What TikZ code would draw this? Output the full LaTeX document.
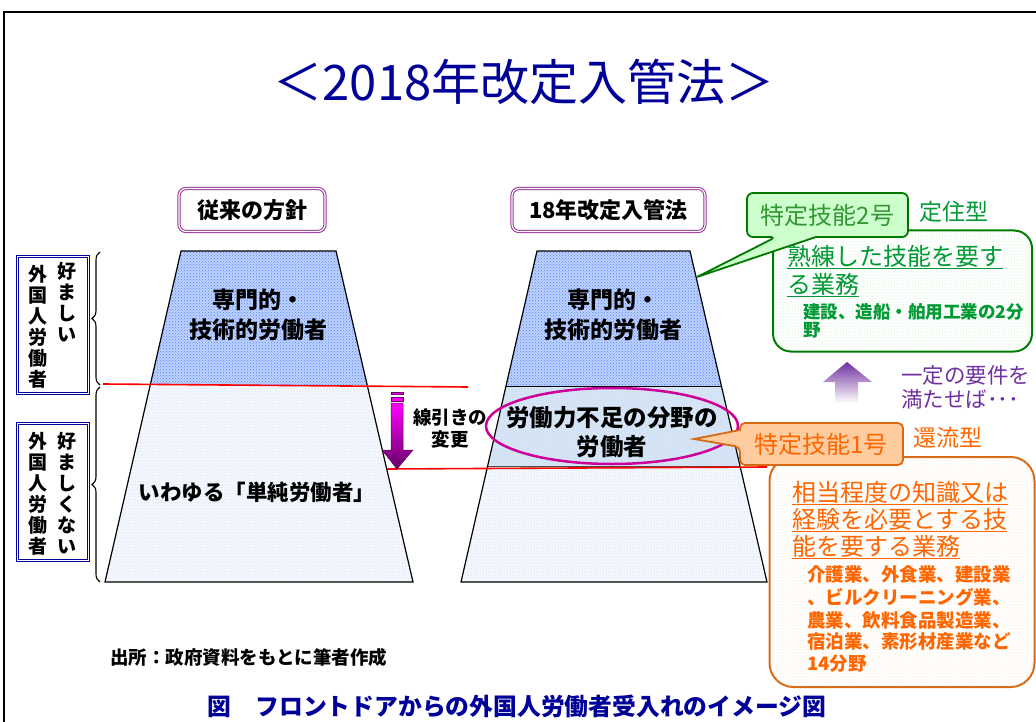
\documentclass[tikz,border=0pt]{standalone}
\usepackage{fontspec}
\setmainfont{Noto Sans CJK JP}
\usetikzlibrary{shapes.geometric,decorations.pathreplacing,patterns}
\definecolor{navy}{RGB}{0,0,153}
\definecolor{boxpurple}{RGB}{153,51,153}
\definecolor{gborder}{RGB}{0,120,0}
\definecolor{gfill}{RGB}{204,255,204}
\definecolor{gtext}{RGB}{0,153,51}
\definecolor{gtitle}{RGB}{51,150,51}
\definecolor{gdots}{RGB}{190,235,190}
\definecolor{oborder}{RGB}{215,105,20}
\definecolor{ofill}{RGB}{255,204,160}
\definecolor{otext}{RGB}{255,102,0}
\definecolor{odots}{RGB}{255,215,190}
\definecolor{mag}{RGB}{204,0,153}
\definecolor{ptext}{RGB}{112,48,160}
\definecolor{upblue}{RGB}{190,210,255}
\definecolor{updots}{RGB}{85,130,248}
\definecolor{lowfill}{RGB}{244,248,254}
\definecolor{lowdots}{RGB}{190,208,240}
\definecolor{midfill}{RGB}{214,229,246}
\definecolor{arrtop}{RGB}{255,0,255}
\definecolor{arrbot}{RGB}{100,0,100}
\newcommand{\fsz}[2]{\fontsize{#1}{#2}\selectfont}
\begin{document}
\begin{tikzpicture}[x=1pt,y=-1pt,
  lbl/.style={draw=navy, double=white, double distance=1.5pt, line width=1pt, fill=white, minimum width=71pt, minimum height=137pt, inner sep=0pt},
  vcol/.style={align=center, font=\bfseries\fsz{19}{21}, inner sep=0pt},
  headbox/.style={draw=boxpurple, double=white, double distance=1.2pt, line width=1pt, rounded corners=7pt, fill=white, minimum height=43pt, font=\bfseries\fsz{22}{26}, inner sep=0pt},
  bigtxt/.style={align=center, font=\bfseries\fsz{23}{30}, inner sep=0pt},
  redline/.style={draw=red, line width=1.6pt},
  brc/.style={decorate, decoration={brace, amplitude=8pt}, line width=1.1pt},
  trap/.style={draw=black, line width=1.2pt},
  gline/.style={anchor=west, inner sep=0pt, text=gtext},
  oline/.style={anchor=west, inner sep=0pt, text=otext},
]
\useasboundingbox (0,0) rectangle (1036,722);
% frame
\draw[line width=2pt] (4,740) -- (4,12) -- (1045,12);
% title
\node[text=navy, font=\fsz{49}{56}, inner sep=0pt] (title) at (524,82) {＜2018年改定入管法＞};

% left labels
\node[lbl] (b1) at (53,325) {};
\node[vcol] (b1r) at (67,302) {好\\ま\\し\\い};
\node[vcol] (b1l) at (38,327) {外\\国\\人\\労\\働\\者};
\node[lbl] (b2) at (53,492) {};
\node[vcol] (b2r) at (67,493) {好\\ま\\し\\く\\な\\い};
\node[vcol] (b2l) at (38,494) {外\\国\\人\\労\\働\\者};

% braces
\draw[brc] (100,385) -- (100,252);
\draw[brc] (100,582) -- (100,387);

% head boxes
\node[headbox, minimum width=146pt] (h1) at (252,210) {従来の方針};
\node[headbox, minimum width=193pt] (h2) at (608.5,210) {18年改定入管法};

% left trapezoid
\coordinate (LTL) at (181,251); \coordinate (LTR) at (336,251);
\coordinate (LML) at (150.2,385); \coordinate (LMR) at (367.2,385);
\coordinate (LBL) at (105,582); \coordinate (LBR) at (413,582);
\fill[upblue] (LTL) -- (LTR) -- (LMR) -- (LML) -- cycle;
\fill[pattern=crosshatch dots, pattern color=updots] (LTL) -- (LTR) -- (LMR) -- (LML) -- cycle;
\fill[lowfill] (LML) -- (LMR) -- (LBR) -- (LBL) -- cycle;
\fill[pattern=dots, pattern color=lowdots] (LML) -- (LMR) -- (LBR) -- (LBL) -- cycle;
\draw[trap] (LTL) -- (LTR) -- (LBR) -- (LBL) -- cycle;

% right trapezoid
\coordinate (RTL) at (537,251); \coordinate (RTR) at (690,251);
\coordinate (RML) at (506,386); \coordinate (RMR) at (721.4,386);
\coordinate (RNL) at (487.6,466); \coordinate (RNR) at (740,466);
\coordinate (RBL) at (461,582); \coordinate (RBR) at (767,582);
\fill[upblue] (RTL) -- (RTR) -- (RMR) -- (RML) -- cycle;
\fill[pattern=crosshatch dots, pattern color=updots] (RTL) -- (RTR) -- (RMR) -- (RML) -- cycle;
\fill[midfill] (RML) -- (RMR) -- (RNR) -- (RNL) -- cycle;
\fill[pattern=dots, pattern color=lowdots] (RML) -- (RMR) -- (RNR) -- (RNL) -- cycle;
\fill[lowfill] (RNL) -- (RNR) -- (RBR) -- (RBL) -- cycle;
\fill[pattern=dots, pattern color=lowdots] (RNL) -- (RNR) -- (RBR) -- (RBL) -- cycle;
\draw[line width=0.8pt] (RML) -- (RMR);
\draw[line width=0.8pt, black!70] (RNL) -- (RNR);
\draw[trap] (RTL) -- (RTR) -- (RBR) -- (RBL) -- cycle;

% red lines
\coordinate (r1a) at (103,384); \coordinate (r1b) at (468,387);
\coordinate (r2a) at (387,469); \coordinate (r2b) at (767,467);
\draw[redline] (r1a) -- (r1b);
\draw[redline] (r2a) -- (r2b);

% trapezoid texts
\node[bigtxt] (ls) at (258,315) {専門的・\\技術的労働者};
\node[bigtxt] (rs) at (613,315) {専門的・\\技術的労働者};
\node[bigtxt, font=\bfseries\fsz{21.5}{26}] (tanjun) at (257,492) {いわゆる「単純労働者」};

% down arrow
\fill[arrtop] (391,392) rectangle (403,394.5);
\fill[arrtop] (391,397) rectangle (403,401.5);
\draw[line width=0.4pt, arrbot] (391,392) rectangle (403,394.5) (391,397) rectangle (403,401.5);
\shade[top color=arrtop, bottom color=arrbot, draw=arrbot, line width=0.5pt]
  (391,403) -- (403,403) -- (403,450) -- (413,450) -- (397,469) -- (382,450) -- (391,450) -- cycle;
\node[align=center, font=\bfseries\fsz{18.5}{22}, inner sep=0pt] (senbiki) at (450,428) {線引きの\\変更};

% ellipse
\node[draw=mag, line width=2.5pt, ellipse, minimum width=252pt, minimum height=76pt, inner sep=0pt] (ell) at (612,426) {};
\node[bigtxt, font=\bfseries\fsz{23.5}{29}] (fusoku) at (612,432) {労働力不足の分野の\\労働者};

% green big box
\node[draw=gborder, line width=2pt, fill=white, rounded corners=18pt, minimum width=259pt, minimum height=121pt,
  postaction={pattern=dots, pattern color=gdots}] (gbig) at (902.5,291) {};
% green callout
\path[draw=gborder, fill=gfill, line width=1.8pt]
  (776,237) -- (697,277) -- (816,237) [rounded corners=6pt] -- (908,237) -- (908,193) -- (747,193) -- (747,237) -- cycle;
\node[text=gtitle, font=\fsz{24}{28}, inner sep=0pt] (t2) at (827.5,215) {特定技能2号};
\node[text=gtext, font=\fsz{23}{28}, inner sep=0pt] (teiju) at (954,212) {定住型};
\node[gline, font=\fsz{24}{28}] (g1) at (787,257) {\underline{熟練した技能を要す}};
\node[gline, font=\fsz{24}{28}] (g2) at (787,285) {\underline{る業務}};
\node[gline, font=\bfseries\fsz{17.5}{20}] (g3) at (803,312) {建設、造船・舶用工業の2分};
\node[gline, font=\bfseries\fsz{17.5}{20}] (g4) at (803,330) {野};

% purple up arrow
\shade[top color=ptext, bottom color=white]
  (847,362) -- (872,382) -- (858,382) -- (858,403) -- (835,403) -- (835,382) -- (823,382) -- cycle;
\node[anchor=west, text=ptext, font=\fsz{21.5}{24}, inner sep=0pt] (yoken1) at (901,375) {一定の要件を};
\node[anchor=west, text=ptext, font=\fsz{21.5}{24}, inner sep=0pt] (yoken2) at (901,399) {満たせば･･･};

% orange big box
\node[draw=oborder, line width=2pt, fill=white, rounded corners=24pt, minimum width=265pt, minimum height=230pt,
  postaction={pattern=dots, pattern color=odots}] (obig) at (902,572) {};
% orange callout
\path[draw=oborder, fill=ofill, line width=1.8pt]
  (740,447) -- (694,439) -- (740,430) [rounded corners=5pt] -- (740,423) -- (903,423) -- (903,465) -- (740,465) -- cycle;
\node[text=otext, font=\fsz{24}{28}, inner sep=0pt] (t1) at (821,444) {特定技能1号};
\node[text=otext, font=\fsz{23}{28}, inner sep=0pt] (kanryu) at (948,438) {還流型};
\node[oline, font=\fsz{24}{28}] (o1) at (792,493) {\underline{相当程度の知識又は}};
\node[oline, font=\fsz{24}{28}] (o2) at (792,520) {\underline{経験を必要とする技}};
\node[oline, font=\fsz{24}{28}] (o3) at (792,547) {\underline{能を要する業務}};
\node[oline, font=\bfseries\fsz{18.5}{22}] (o4) at (807,574) {介護業、外食業、建設業};
\node[oline, font=\bfseries\fsz{18.5}{22}] (o5) at (807,597) {、ビルクリーニング業、};
\node[oline, font=\bfseries\fsz{18.5}{22}] (o6) at (807,620) {農業、飲料食品製造業、};
\node[oline, font=\bfseries\fsz{18.5}{22}] (o7) at (807,642) {宿泊業、素形材産業など};
\node[oline, font=\bfseries\fsz{18.5}{22}] (o8) at (807,664) {14分野};

% source and caption
\node[anchor=west, font=\bfseries\fsz{18.5}{22}, inner sep=0pt] (src) at (110,657) {出所：政府資料をもとに筆者作成};
\node[text=navy, font=\bfseries\fsz{23.8}{28}, inner sep=0pt] (cap) at (517,706) {図　フロントドアからの外国人労働者受入れのイメージ図};
\end{tikzpicture}
\end{document}
